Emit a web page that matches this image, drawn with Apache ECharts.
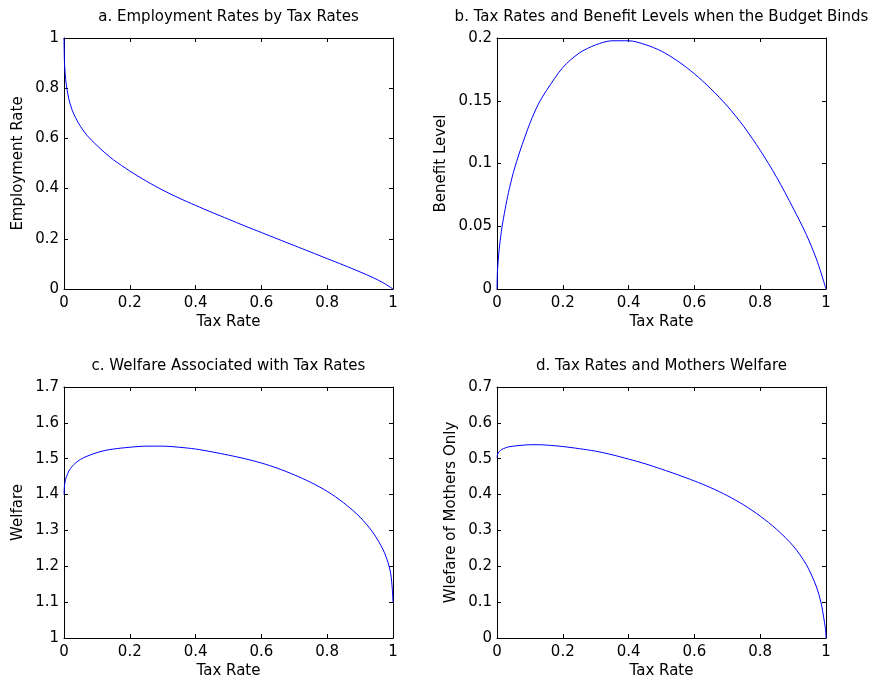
<!DOCTYPE html>
<html>
<head>
<meta charset="utf-8">
<script src="https://cdn.jsdelivr.net/npm/echarts@6/dist/echarts.min.js"></script>
<style>
  html, body { margin: 0; padding: 0; background: #fff; }
  #main { width: 881px; height: 683px; }
</style>
</head>
<body>
<div id="main"></div>
<script>
// tax rates (x for every panel)
var taxRate = [0, 0.001, 0.002, 0.005, 0.008, 0.015, 0.025, 0.035, 0.05, 0.07, 0.1, 0.125, 0.15,
  0.2, 0.25, 0.3, 0.35, 0.4, 0.45, 0.5, 0.55, 0.6, 0.65, 0.7, 0.75, 0.8, 0.85, 0.9, 0.94,
  0.97, 0.985, 0.993, 0.998, 1];

// a. employment rate
var employment = [1.0, 0.92, 0.885, 0.835, 0.805, 0.755, 0.712, 0.683, 0.648, 0.612, 0.572, 0.542, 0.515,
  0.47, 0.43, 0.394, 0.362, 0.333, 0.305, 0.278, 0.251, 0.225, 0.199, 0.173, 0.147, 0.121, 0.095, 0.068, 0.045,
  0.025, 0.013, 0.006, 0.0017, 0];

// b. benefit level
var benefit = [0, 0.012, 0.017, 0.027, 0.035, 0.049, 0.064, 0.077, 0.093, 0.110, 0.132, 0.147, 0.158,
  0.1765, 0.188, 0.1945, 0.1978, 0.1978, 0.1948, 0.1895, 0.1815, 0.1715, 0.1595, 0.1458, 0.1295, 0.1105, 0.089, 0.0645, 0.0435,
  0.0245, 0.0128, 0.006, 0.0017, 0];

// c. welfare
var welfare = [1.40, 1.42, 1.43, 1.443, 1.451, 1.466, 1.479, 1.488, 1.498, 1.507, 1.517, 1.523, 1.527,
  1.532, 1.535, 1.535, 1.532, 1.527, 1.519, 1.510, 1.500, 1.488, 1.473, 1.455, 1.434, 1.409, 1.377, 1.337, 1.293,
  1.246, 1.21, 1.18, 1.135, 1.10];

// d. welfare of mothers only
var mothers = [0.503, 0.509, 0.513, 0.518, 0.521, 0.526, 0.530, 0.533, 0.535, 0.537, 0.539, 0.539, 0.538,
  0.534, 0.528, 0.521, 0.511, 0.499, 0.486, 0.471, 0.455, 0.438, 0.419, 0.397, 0.371, 0.340, 0.303, 0.257, 0.205,
  0.145, 0.098, 0.057, 0.028, 0];

var titles = ['a. Employment Rates by Tax Rates', 'b. Tax Rates and Benefit Levels when the Budget Binds',
  'c. Welfare Associated with Tax Rates', 'd. Tax Rates and Mothers Welfare'];
var yNames = ['Employment Rate', 'Benefit Level', 'Welfare', 'Wlefare of Mothers Only'];
var yMin = [0, 0, 1, 0];
var yMax = [1, 0.2, 1.7, 0.7];
var yStep = [0.2, 0.05, 0.1, 0.1];
var yNameGap = [38, 48, 38, 38];
var values = [employment, benefit, welfare, mothers];

var grids = [
  { left: 64, top: 38, width: 329, height: 251 },
  { left: 497, top: 38, width: 329, height: 251 },
  { left: 64, top: 387, width: 329, height: 251 },
  { left: 497, top: 387, width: 329, height: 251 }
];

var font = '"DejaVu Sans", Arial, sans-serif';
var axisLine = { show: true, onZero: false, lineStyle: { color: '#000', width: 1 } };
var tick = { show: true, inside: true, length: 4, lineStyle: { color: '#000' } };

var option = { backgroundColor: '#fff', animation: false, title: [], grid: [], xAxis: [], yAxis: [], series: [] };

for (var i = 0; i < 4; i++) {
  var g = grids[i];
  option.grid.push({ left: g.left, top: g.top, width: g.width, height: g.height, containLabel: false });
  option.title.push({
    text: titles[i], left: g.left + g.width / 2, top: g.top - 28, textAlign: 'center', padding: 0,
    textStyle: { fontFamily: font, fontSize: 15, fontWeight: 'normal', color: '#000' }
  });
  // bottom + top x axes
  option.xAxis.push({
    gridIndex: i, type: 'value', min: 0, max: 1, interval: 0.2, position: 'bottom',
    name: 'Tax Rate', nameLocation: 'middle', nameGap: 26,
    nameTextStyle: { fontFamily: font, fontSize: 15, color: '#000' },
    axisLine: axisLine, axisTick: tick, splitLine: { show: false },
    axisLabel: { fontFamily: font, fontSize: 15, color: '#000', margin: 7 }
  });
  option.xAxis.push({
    gridIndex: i, type: 'value', min: 0, max: 1, interval: 0.2, position: 'top',
    axisLine: axisLine, axisTick: tick, splitLine: { show: false }, axisLabel: { show: false }
  });
  // left + right y axes
  option.yAxis.push({
    gridIndex: i, type: 'value', min: yMin[i], max: yMax[i], interval: yStep[i], position: 'left',
    name: yNames[i], nameLocation: 'middle', nameGap: yNameGap[i],
    nameTextStyle: { fontFamily: font, fontSize: 15, color: '#000' },
    axisLine: axisLine, axisTick: tick, splitLine: { show: false },
    axisLabel: { fontFamily: font, fontSize: 15, color: '#000', margin: 5 }
  });
  option.yAxis.push({
    gridIndex: i, type: 'value', min: yMin[i], max: yMax[i], interval: yStep[i], position: 'right',
    axisLine: axisLine, axisTick: tick, splitLine: { show: false }, axisLabel: { show: false }
  });
  option.series.push({
    type: 'line', xAxisIndex: i * 2, yAxisIndex: i * 2, showSymbol: false, smooth: 0.3,
    lineStyle: { color: '#0000ff', width: 1 },
    data: taxRate.map(function (t, k) { return [t, values[i][k]]; })
  });
}

var myChart = echarts.init(document.getElementById('main'));
myChart.setOption(option);
</script>
</body>
</html>
